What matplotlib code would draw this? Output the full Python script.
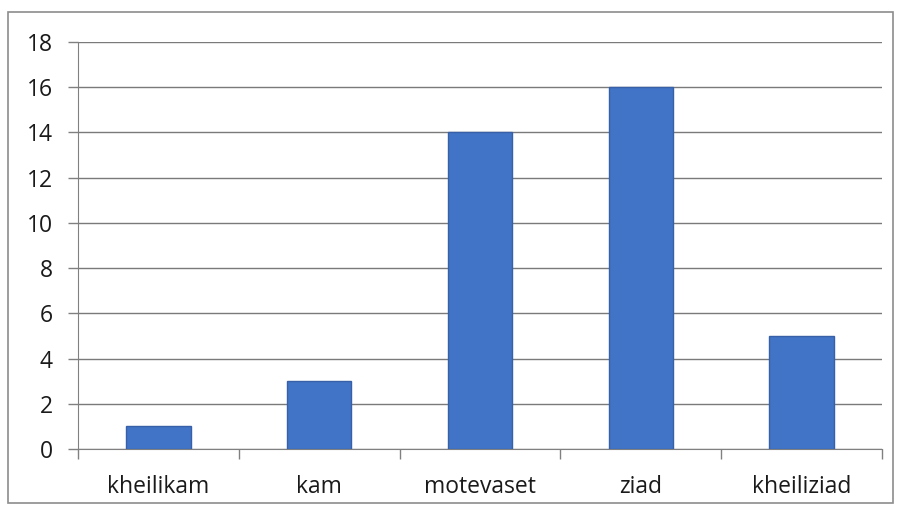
import matplotlib
matplotlib.use("Agg")
import matplotlib.pyplot as plt
from matplotlib.patches import Rectangle

# Chart data
categories = ["kheilikam", "kam", "motevaset", "ziad", "kheiliziad"]
counts = [1, 3, 14, 16, 5]
y_ticks = [0, 2, 4, 6, 8, 10, 12, 14, 16, 18]

plt.rcParams['font.family'] = ['Open Sans', 'DejaVu Sans']

W, H = 900, 509
fig = plt.figure(figsize=(W / 100, H / 100), dpi=100)
fig.patch.set_facecolor("white")

# outer chart border
fig.patches.append(Rectangle((8 / W, 1 - 503 / H), (893 - 8) / W, (503 - 12) / H,
                             transform=fig.transFigure, fill=False,
                             edgecolor="#8c8c8c", linewidth=1.2))

ax = fig.add_axes([78 / W, 1 - 449 / H, (882 - 78) / W, (449 - 42) / H])

x = range(len(categories))
ax.bar(x, counts, width=0.4, color="#4174C6", edgecolor="#3760A8",
       linewidth=1, zorder=3)

ax.set_xlim(-0.5, len(categories) - 0.5)
ax.set_ylim(0, 18)
ax.set_yticks(y_ticks)
ax.set_yticklabels([str(v) for v in y_ticks], fontsize=16.5, color="#1a1a1a")
ax.set_xticks(list(x))
ax.set_xticklabels(categories, fontsize=16.5, color="#1a1a1a")

# category boundary ticks
ax.set_xticks([i - 0.5 for i in range(len(categories) + 1)], minor=True)
ax.tick_params(axis="x", which="major", length=0, pad=19)
ax.tick_params(axis="x", which="minor", length=7, color="#808080", width=1)
ax.tick_params(axis="y", length=7, color="#808080", width=1, pad=11)

ax.yaxis.grid(True, color="#7a7a7a", linewidth=1)
ax.set_axisbelow(True)
for side in ["top", "right"]:
    ax.spines[side].set_visible(False)
ax.spines["left"].set_color("#808080")
ax.spines["bottom"].set_color("#808080")

fig.savefig("out.png", dpi=100)
